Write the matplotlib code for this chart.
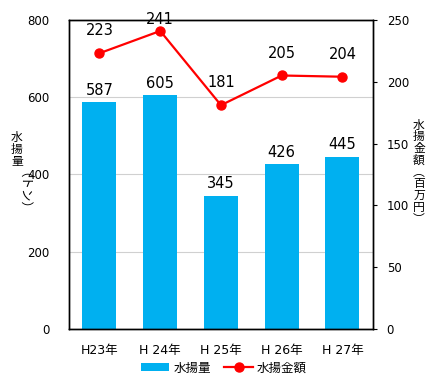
import numpy as np
import matplotlib
matplotlib.use("Agg")
import matplotlib.pyplot as plt

plt.rcParams['font.family'] = ['DejaVu Sans', 'Noto Sans CJK JP']

# 年度ごとの水揚量（トン）と水揚金額（百万円）
years = ['H23年', 'H 24年', 'H 25年', 'H 26年', 'H 27年']
catch_ton = [587, 605, 345, 426, 445]
value_mil = [223, 241, 181, 205, 204]

x = np.arange(len(years))
W, H = 432, 374

fig = plt.figure(figsize=(W / 100, H / 100), dpi=100)
ax = fig.add_axes([0.16, 0.12, 0.703, 0.827])
ax2 = ax.twinx()

bars = ax.bar(x, catch_ton, width=0.56, color='#00B0F0', zorder=2, label='水揚量')
ax.set_ylim(0, 800)
ax.set_yticks([0, 200, 400, 600, 800])
ax.set_xlim(-0.5, 4.5)
ax.set_xticks(x)
ax.set_xticklabels(years)
ax.grid(axis='y', color='#d0d0d0', lw=0.8, zorder=0)
ax.tick_params(axis='y', length=0, labelsize=8.5, pad=14)
ax.tick_params(axis='x', length=0, labelsize=9, pad=11)
for v, xi in zip(catch_ton, x):
    ax.text(xi, v + 12, str(v), ha='center', va='bottom', fontsize=10.5)

line, = ax2.plot(x, value_mil, color='#FF0000', lw=1.6, marker='o', ms=6.5,
                 zorder=3, label='水揚金額', clip_on=False)
ax2.set_ylim(0, 250)
ax2.set_yticks([0, 50, 100, 150, 200, 250])
ax2.tick_params(axis='y', length=3, labelsize=8.5, pad=7)
for v, xi in zip(value_mil, x):
    # 上端付近のラベルは枠に収まるよう下げる
    ax2.text(xi, min(v + 12, 244), str(v), ha='center', va='bottom', fontsize=10.5)

for a in (ax, ax2):
    for s in a.spines.values():
        s.set_color('black')
        s.set_linewidth(1.0)


# 縦書きの軸ラベル（1文字ずつ配置）
def vertical_label(chars, xc, y0, step=11.8):
    for i, ch in enumerate(chars):
        fig.text(xc / W, 1 - (y0 + i * step) / H, ch, ha='center', va='center',
                 fontsize=8.5, family=['Noto Sans CJK JP'])


vertical_label('水揚量', 17, 137.5)
fig.text(17 / W, 1 - 197 / H, '（トン）', ha='center', va='center', rotation=-90,
         fontsize=9, family=['Noto Sans CJK JP'])
vertical_label('水揚金額︵百万円︶', 419, 125)

fig.legend([bars, line], ['水揚量', '水揚金額'], loc='center', bbox_to_anchor=(0.518, 0.016),
           ncol=2, frameon=False, fontsize=9, handlelength=2.3, columnspacing=1.1,
           handletextpad=0.3, handleheight=0.6)

fig.savefig('out.png', dpi=100)
